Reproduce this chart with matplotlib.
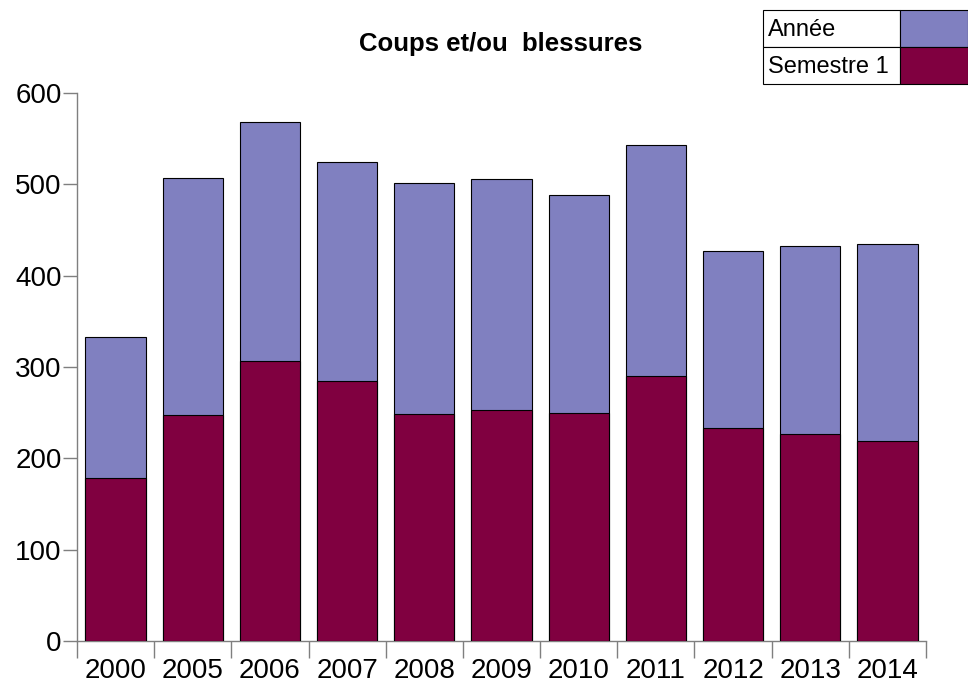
import numpy as np
import matplotlib.pyplot as plt
from matplotlib.patches import Rectangle

plt.rcParams['font.family'] = ['Liberation Sans', 'DejaVu Sans']

years = ['2000', '2005', '2006', '2007', '2008', '2009', '2010', '2011', '2012', '2013', '2014']
annee = [333, 507, 568, 524, 502, 506, 488, 543, 427, 433, 435]
semestre1 = [178, 247, 307, 285, 248, 253, 250, 290, 233, 227, 219]

blue = '#8080c0'
maroon = '#800040'
grey = '#7f7f7f'

fig = plt.figure(figsize=(9.68, 6.85), dpi=100)
ax = fig.add_axes([77/968, 44/685, 849/968, 548/685])

x = np.arange(len(years))
ax.bar(x, annee, width=0.78, color=blue, edgecolor='black', linewidth=0.8, zorder=2)
ax.bar(x, semestre1, width=0.78, color=maroon, edgecolor='black', linewidth=0.8, zorder=3)

ax.set_xlim(-0.5, len(years) - 0.5)
ax.set_ylim(0, 600)
ax.set_yticks([0, 100, 200, 300, 400, 500, 600])
ax.tick_params(axis='y', labelsize=20, length=10, color=grey, width=1, pad=1)

ax.set_xticks(x)
ax.set_xticklabels(years)
ax.set_xticks(np.arange(len(years) + 1) - 0.5, minor=True)
ax.tick_params(axis='x', which='major', length=0, labelsize=20, pad=12)
ax.tick_params(axis='x', which='minor', length=12, color=grey, width=1)

for s in ['top', 'right']:
    ax.spines[s].set_visible(False)
for s in ['left', 'bottom']:
    ax.spines[s].set_color(grey)
    ax.spines[s].set_linewidth(1)

fig.text(501/968, 1 - 44/685, 'Coups et/ou  blessures', ha='center', va='center',
         fontsize=18.5, fontweight='bold')

# legend box
W, H = 968, 685
rows = [('Année', blue), ('Semestre 1', maroon)]
for i, (label, col) in enumerate(rows):
    y0 = 10 + i * 37
    fig.patches.append(Rectangle((763/W, 1 - (y0 + 37)/H), 137/W, 37/H, transform=fig.transFigure,
                                 facecolor='white', edgecolor='black', linewidth=0.8))
    fig.patches.append(Rectangle((900/W, 1 - (y0 + 37)/H), 68/W, 37/H, transform=fig.transFigure,
                                 facecolor=col, edgecolor='black', linewidth=0.8))
    fig.text(768/W, 1 - (y0 + 20)/H, label, ha='left', va='center', fontsize=17)

fig.savefig('out.png', dpi=100)
